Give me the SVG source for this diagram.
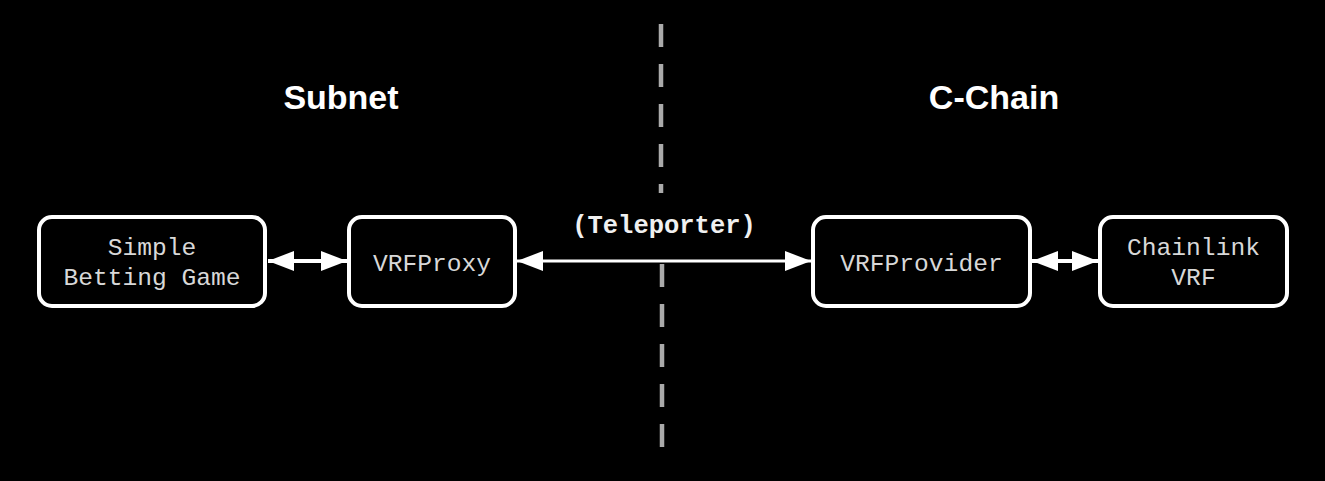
<svg xmlns="http://www.w3.org/2000/svg" width="1325" height="481" viewBox="0 0 1325 481">
<defs>
<style>
.box{fill:#000;stroke:#fff;stroke-width:4}
.lbl{font-family:"Liberation Mono","Courier New",monospace;font-size:24.6px;fill:#d8d8d8;text-anchor:middle}
.title{font-family:"Liberation Sans",Arial,sans-serif;font-size:34px;font-weight:bold;fill:#fff;text-anchor:middle}
.tele{font-family:"Liberation Mono","Courier New",monospace;font-size:25.5px;font-weight:bold;fill:#f0f0f0;text-anchor:middle}
.conn{stroke:#fff;stroke-width:4;fill:none}
.dash{stroke:#aaa;stroke-width:4.5;stroke-dasharray:23 17;fill:none}
</style>
<marker id="ah" viewBox="0 0 26 20" refX="26" refY="10" markerWidth="26" markerHeight="20" markerUnits="userSpaceOnUse" orient="auto-start-reverse">
<path d="M0,0 L26,10 L0,20 Z" fill="#fff"/>
</marker>
</defs>
<rect x="0" y="0" width="1325" height="481" fill="#000"/>
<g id="divider">
<line class="dash" x1="661" y1="24" x2="661" y2="193"/>
<line class="dash" x1="662" y1="264" x2="662" y2="447"/>
</g>
<g id="titles">
<text class="title" x="341" y="109">Subnet</text>
<text class="title" x="994" y="109">C-Chain</text>
</g>
<g id="connectors">
<line class="conn" x1="268" y1="261" x2="347" y2="261" marker-start="url(#ah)" marker-end="url(#ah)"/>
<line class="conn" style="stroke-width:3" x1="517" y1="261" x2="811" y2="261" marker-start="url(#ah)" marker-end="url(#ah)"/>
<line class="conn" x1="1032" y1="261" x2="1098" y2="261" marker-start="url(#ah)" marker-end="url(#ah)"/>
<text class="tele" x="664" y="233">(Teleporter)</text>
</g>
<g id="node-game">
<rect class="box" x="39" y="217" width="226" height="89" rx="13"/>
<text class="lbl" x="152" y="255">Simple</text>
<text class="lbl" x="152" y="285">Betting Game</text>
</g>
<g id="node-proxy">
<rect class="box" x="349" y="217" width="166" height="89" rx="13"/>
<text class="lbl" x="432" y="271">VRFProxy</text>
</g>
<g id="node-provider">
<rect class="box" x="813" y="217" width="217" height="89" rx="13"/>
<text class="lbl" x="921.5" y="271">VRFProvider</text>
</g>
<g id="node-chainlink">
<rect class="box" x="1100" y="217" width="187" height="89" rx="13"/>
<text class="lbl" x="1193.5" y="255">Chainlink</text>
<text class="lbl" x="1193.5" y="285">VRF</text>
</g>
</svg>
